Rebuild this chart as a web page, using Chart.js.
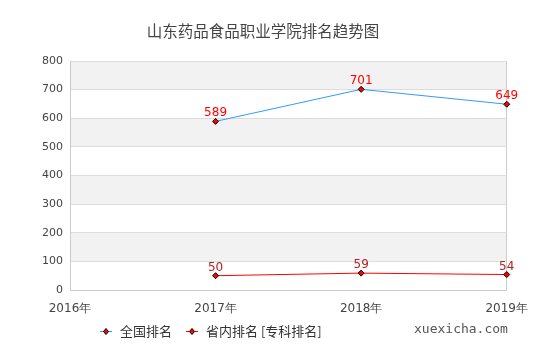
<!DOCTYPE html>
<html><head><meta charset="utf-8">
<script src="https://cdn.jsdelivr.net/npm/chart.js@4/dist/chart.umd.min.js"></script>
<style>html,body{margin:0;padding:0;background:#fff;}#wrap{width:540px;height:360px;}</style>
</head><body><div id="wrap"><canvas id="c" width="540" height="360"></canvas></div>
<script>
const titleText = "山东药品食品职业学院排名趋势图";
const years = ["2016年", "2017年", "2018年", "2019年"];
const nationalRank = [null, 589, 701, 649];
const provincialRank = [null, 50, 59, 54];
const seriesNames = ["全国排名", "省内排名 [专科排名]"];
const yTicks = [0, 100, 200, 300, 400, 500, 600, 700, 800];
const watermark = "xuexicha.com";

const FONT = '"Noto Sans CJK SC", "DejaVu Sans", sans-serif';

const bandsPlugin = {
  id: 'bands',
  beforeDraw(chart) {
    const {ctx, chartArea: a, scales: {y}} = chart;
    ctx.save();
    ctx.fillStyle = '#f2f2f2';
    for (let i = 1; i < yTicks.length - 1; i += 2) {
      const t = y.getPixelForValue(yTicks[i + 1]);
      const b = y.getPixelForValue(yTicks[i]);
      ctx.fillRect(a.left, t, a.right - a.left, b - t);
    }
    ctx.restore();
  }
};

const extrasPlugin = {
  id: 'extras',
  afterDraw(chart) {
    const {ctx} = chart;
    ctx.save();
    // title
    ctx.fillStyle = '#444';
    ctx.font = '15.5px ' + FONT;
    ctx.textAlign = 'center';
    ctx.textBaseline = 'middle';
    ctx.fillText(titleText, 263, 31);
    // data labels
    ctx.font = '12px "DejaVu Sans", sans-serif';
    ctx.textBaseline = 'alphabetic';
    chart.data.datasets.forEach((ds, di) => {
      const meta = chart.getDatasetMeta(di);
      ctx.fillStyle = di === 0 ? '#ff0000' : '#b22222';
      meta.data.forEach((pt, i) => {
        const v = ds.data[i];
        if (v === null) return;
        ctx.fillText(String(v), pt.x, pt.y - 5);
      });
    });
    // legend
    const items = [
      {x: 100, color: '#3399ff', text: seriesNames[0]},
      {x: 186, color: '#ff0000', text: seriesNames[1]}
    ];
    const ly = 331;
    items.forEach(it => {
      ctx.strokeStyle = it.color;
      ctx.lineWidth = 1;
      ctx.beginPath();
      ctx.moveTo(it.x, ly + 0.5);
      ctx.lineTo(it.x + 12, ly + 0.5);
      ctx.stroke();
      ctx.fillStyle = '#ff0000';
      ctx.strokeStyle = '#000';
      ctx.beginPath();
      ctx.moveTo(it.x + 6, ly - 2.5);
      ctx.lineTo(it.x + 8.5, ly + 0.5);
      ctx.lineTo(it.x + 6, ly + 3.5);
      ctx.lineTo(it.x + 3.5, ly + 0.5);
      ctx.closePath();
      ctx.fill();
      ctx.stroke();
      ctx.fillStyle = '#333';
      ctx.font = '13px ' + FONT;
      ctx.textAlign = 'left';
      ctx.textBaseline = 'middle';
      ctx.fillText(it.text, it.x + 20, ly);
    });
    ctx.fillStyle = '#555';
    ctx.font = '13px "DejaVu Sans Mono", monospace';
    ctx.textAlign = 'left';
    ctx.fillText(watermark, 414, 330);
    ctx.restore();
  }
};

new Chart(document.getElementById('c'), {
  type: 'line',
  data: {
    labels: years,
    datasets: [
      {
        label: seriesNames[0], data: nationalRank,
        borderColor: '#3399ff', borderWidth: 1,
        pointStyle: 'rectRot', pointRadius: 3, pointBackgroundColor: '#ff0000',
        pointBorderColor: '#000', pointBorderWidth: 1, tension: 0, spanGaps: false
      },
      {
        label: seriesNames[1], data: provincialRank,
        borderColor: '#ff0000', borderWidth: 1,
        pointStyle: 'rectRot', pointRadius: 3, pointBackgroundColor: '#ff0000',
        pointBorderColor: '#000', pointBorderWidth: 1, tension: 0, spanGaps: false
      }
    ]
  },
  options: {
    responsive: false,
    animation: false,
    devicePixelRatio: 1,
    layout: {padding: {top: 61, right: 30, bottom: 0, left: 0}},
    plugins: {legend: {display: false}, title: {display: false}, tooltip: {enabled: false}},
    scales: {
      x: {
        type: 'category',
        offset: false,
        afterFit(s) { s.height = 70; },
        grid: {
          drawTicks: false,
          color: ctx => (ctx.index === 0 || ctx.index === years.length - 1) ? '#cccccc' : 'rgba(0,0,0,0)'
        },
        border: {color: '#cccccc'},
        ticks: {color: '#444', font: {size: 12, family: '"DejaVu Sans", sans-serif'}, padding: 12, maxRotation: 0, autoSkip: false}
      },
      y: {
        min: 0, max: 800,
        afterFit(s) { s.width = 70; },
        afterBuildTicks(s) { s.ticks = yTicks.map(v => ({value: v})); },
        grid: {drawTicks: false, color: '#dddddd'},
        border: {color: '#cccccc'},
        ticks: {color: '#444', font: {size: 11, family: '"DejaVu Sans", sans-serif'}, padding: 7}
      }
    }
  },
  plugins: [bandsPlugin, extrasPlugin]
});
</script>
</body></html>
